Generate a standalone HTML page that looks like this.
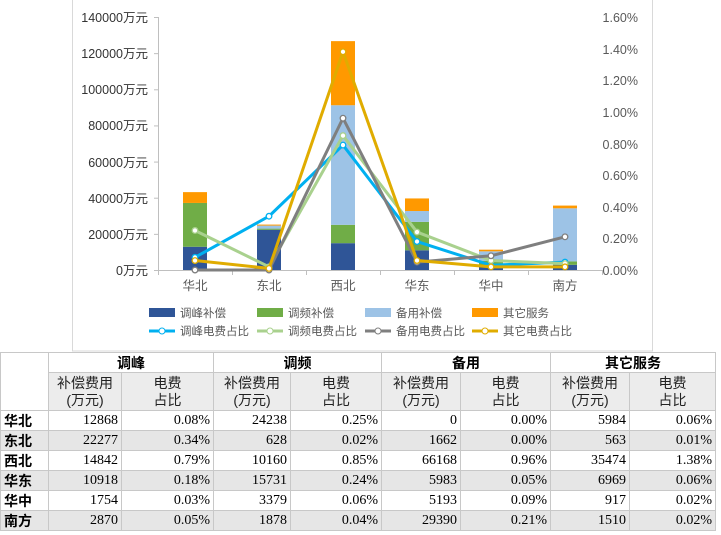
<!DOCTYPE html>
<html><head><meta charset="utf-8"><style>
body{margin:0;width:721px;height:535px;background:#fff;overflow:hidden;font-family:"Liberation Sans","Noto Sans CJK SC",sans-serif;}
#c{position:absolute;left:0;top:0}
table{position:absolute;left:0;top:352px;border-collapse:collapse;font-family:"Liberation Serif","Noto Serif CJK SC",serif;font-size:14px;color:#000}
td{border:1px solid #c8c8c8;padding:0 3px;height:19px;text-align:right;line-height:18px}
.h td{text-align:center;font-weight:bold;font-family:"Liberation Sans","Noto Sans CJK SC",sans-serif}
.s td{text-align:center;background:#ececec;line-height:17px;height:37px;font-family:"Liberation Sans","Noto Sans CJK SC",sans-serif;color:#222}
.g td{background:#e6e6e6}
td.n{text-align:left;font-weight:bold;font-family:"Liberation Sans","Noto Sans CJK SC",sans-serif;background:#fff}
</style></head><body>
<svg id="c" width="721" height="352" xmlns="http://www.w3.org/2000/svg" font-family="Liberation Sans, Noto Sans CJK SC, sans-serif" font-size="12.5" fill="#333">
<rect x="72.5" y="-1" width="580" height="352" fill="#fff" stroke="#d9d9d9"/>
<g id="bars"></g>
<g stroke="#bfbfbf" stroke-width="1">
<line x1="158.5" y1="17" x2="158.5" y2="270"/>
<line x1="158" y1="270.5" x2="602" y2="270.5"/>
</g>
<g id="ticks" stroke="#bfbfbf"></g>
<g id="lines"></g>
<g text-anchor="end">
<text x="148" y="275">0万元</text><text x="148" y="239">20000万元</text><text x="148" y="203">40000万元</text><text x="148" y="167">60000万元</text><text x="148" y="130">80000万元</text><text x="148" y="94">100000万元</text><text x="148" y="58">120000万元</text><text x="148" y="22">140000万元</text>
</g>
<g text-anchor="end" fill="#595959">
<text x="638" y="275">0.00%</text><text x="638" y="243">0.20%</text><text x="638" y="212">0.40%</text><text x="638" y="180">0.60%</text><text x="638" y="149">0.80%</text><text x="638" y="117">1.00%</text><text x="638" y="85">1.20%</text><text x="638" y="54">1.40%</text><text x="638" y="22">1.60%</text>
</g>
<g text-anchor="middle" fill="#595959">
<text x="195" y="290">华北</text><text x="269" y="290">东北</text><text x="343" y="290">西北</text><text x="417" y="290">华东</text><text x="491" y="290">华中</text><text x="565" y="290">南方</text>
</g>
<g fill="#595959" font-size="11.5">
<rect x="149" y="308" width="26" height="9" fill="#2F5597"/><text x="180" y="317">调峰补偿</text>
<rect x="257" y="308" width="26" height="9" fill="#70AD47"/><text x="288" y="317">调频补偿</text>
<rect x="365" y="308" width="26" height="9" fill="#9DC3E6"/><text x="396" y="317">备用补偿</text>
<rect x="472" y="308" width="26" height="9" fill="#FF9900"/><text x="503" y="317">其它服务</text>
<line x1="149" y1="331" x2="175" y2="331" stroke="#00B0F0" stroke-width="3"/><circle cx="162" cy="331" r="3" fill="#fff" stroke="#00B0F0"/><text x="180" y="335">调峰电费占比</text>
<line x1="257" y1="331" x2="283" y2="331" stroke="#A9D18E" stroke-width="3"/><circle cx="270" cy="331" r="3" fill="#fff" stroke="#A9D18E"/><text x="288" y="335">调频电费占比</text>
<line x1="365" y1="331" x2="391" y2="331" stroke="#7F7F7F" stroke-width="3"/><circle cx="378" cy="331" r="3" fill="#fff" stroke="#7F7F7F"/><text x="396" y="335">备用电费占比</text>
<line x1="472" y1="331" x2="498" y2="331" stroke="#E0AC00" stroke-width="3"/><circle cx="485" cy="331" r="3" fill="#fff" stroke="#E0AC00"/><text x="503" y="335">其它电费占比</text>
</g>
</svg>
<script>
var ns="http://www.w3.org/2000/svg";
function el(p,t,a){var e=document.createElementNS(ns,t);for(var k in a)e.setAttribute(k,a[k]);document.getElementById(p).appendChild(e);}
var cx=[195,269,343,417,491,565];
var d=[[12868,24238,0,5984],[22277,628,1662,563],[14842,10160,66168,35474],[10918,15731,5983,6969],[1754,3379,5193,917],[2870,1878,29390,1510]];
var col=["#2F5597","#70AD47","#9DC3E6","#FF9900"];
function yv(v){return 270-v*253/140000;}
d.forEach(function(r,i){var c=0;r.forEach(function(v,j){var y0=yv(c),y1=yv(c+v);c+=v;if(v>0)el("bars","rect",{x:cx[i]-12,y:y1,width:24,height:y0-y1,fill:col[j]});});});
for(var i=0;i<8;i++){var y=270-i*253/7;el("ticks","line",{x1:154,x2:158,y1:y+0.5,y2:y+0.5});}
for(var i=0;i<=6;i++){var x=158+i*74;el("ticks","line",{x1:x+0.5,x2:x+0.5,y1:270,y2:275});}
var p=[[0.08,0.34,0.79,0.18,0.03,0.05],[0.25,0.02,0.85,0.24,0.06,0.04],[0,0,0.96,0.05,0.09,0.21],[0.06,0.01,1.38,0.06,0.02,0.02]];
var lc=["#00B0F0","#A9D18E","#7F7F7F","#E0AC00"];
p.forEach(function(s,k){var pts=s.map(function(v,i){return cx[i]+","+(270-v*253/1.6);}).join(" ");
el("lines","polyline",{points:pts,fill:"none",stroke:lc[k],"stroke-width":3,"stroke-linejoin":"round"});
s.forEach(function(v,i){el("lines","circle",{cx:cx[i],cy:270-v*253/1.6,r:2.8,fill:"#fff",stroke:lc[k],"stroke-width":1.3});});});
</script>
<table>
<colgroup><col style="width:48px"><col style="width:73px"><col style="width:92px"><col style="width:77px"><col style="width:91px"><col style="width:79px"><col style="width:90px"><col style="width:79px"><col style="width:86px"></colgroup>
<tr class="h"><td rowspan="2" style="background:#fff"></td><td colspan="2">调峰</td><td colspan="2">调频</td><td colspan="2">备用</td><td colspan="2">其它服务</td></tr>
<tr class="s"><td>补偿费用<br>(万元)</td><td>电费<br>占比</td><td>补偿费用<br>(万元)</td><td>电费<br>占比</td><td>补偿费用<br>(万元)</td><td>电费<br>占比</td><td>补偿费用<br>(万元)</td><td>电费<br>占比</td></tr>
<tr><td class="n">华北</td><td>12868</td><td>0.08%</td><td>24238</td><td>0.25%</td><td>0</td><td>0.00%</td><td>5984</td><td>0.06%</td></tr>
<tr class="g"><td class="n" style="background:#e6e6e6">东北</td><td>22277</td><td>0.34%</td><td>628</td><td>0.02%</td><td>1662</td><td>0.00%</td><td>563</td><td>0.01%</td></tr>
<tr><td class="n">西北</td><td>14842</td><td>0.79%</td><td>10160</td><td>0.85%</td><td>66168</td><td>0.96%</td><td>35474</td><td>1.38%</td></tr>
<tr class="g"><td class="n" style="background:#e6e6e6">华东</td><td>10918</td><td>0.18%</td><td>15731</td><td>0.24%</td><td>5983</td><td>0.05%</td><td>6969</td><td>0.06%</td></tr>
<tr><td class="n">华中</td><td>1754</td><td>0.03%</td><td>3379</td><td>0.06%</td><td>5193</td><td>0.09%</td><td>917</td><td>0.02%</td></tr>
<tr class="g"><td class="n" style="background:#e6e6e6">南方</td><td>2870</td><td>0.05%</td><td>1878</td><td>0.04%</td><td>29390</td><td>0.21%</td><td>1510</td><td>0.02%</td></tr>
</table>
</body></html>
